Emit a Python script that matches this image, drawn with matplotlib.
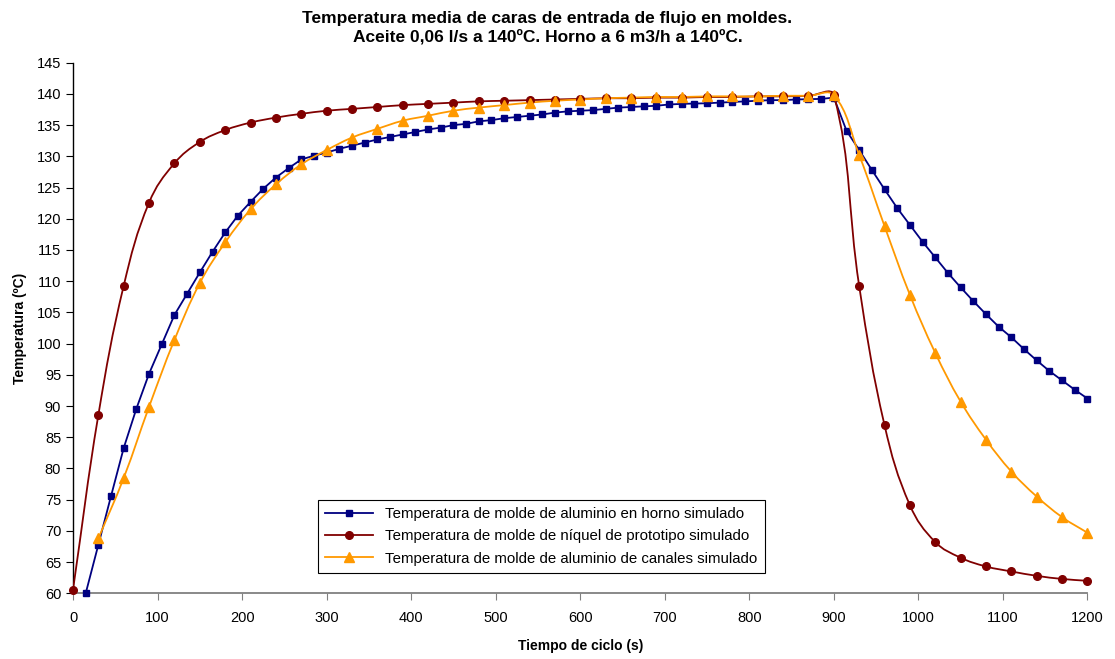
import matplotlib
matplotlib.use("Agg")
import matplotlib.pyplot as plt
import numpy as np
from matplotlib.path import Path
from matplotlib.patches import PathPatch
from matplotlib.lines import Line2D

plt.rcParams["font.family"] = ["Liberation Sans", "DejaVu Sans"]

# Datos
tiempo_horno = list(range(15, 1201, 15))
temp_horno = [
    60.0, 67.8, 75.6, 83.3, 89.6, 95.2, 99.9, 104.6, 108.0, 111.4,
    114.7, 117.8, 120.5, 122.7, 124.8, 126.6, 128.1, 129.5, 130.1, 130.6,
    131.2, 131.7, 132.2, 132.7, 133.1, 133.5, 133.9, 134.3, 134.6, 135.0,
    135.2, 135.6, 135.8, 136.1, 136.3, 136.5, 136.7, 137.0, 137.2, 137.3,
    137.4, 137.6, 137.8, 137.9, 138.0, 138.1, 138.3, 138.4, 138.45, 138.5,
    138.6, 138.7, 138.8, 138.9, 139.0, 139.0, 139.1, 139.15, 139.2, 139.4,
    134.1, 131.0, 127.8, 124.7, 121.7, 119.0, 116.3, 113.8, 111.3, 109.0,
    106.8, 104.7, 102.7, 101.0, 99.1, 97.3, 95.6, 94.1, 92.6, 91.2,
]

tiempo_niquel = list(range(0, 1201, 30))
temp_niquel = [
    60.6, 88.6, 109.3, 122.6, 128.9, 132.3, 134.2, 135.4, 136.2, 136.8,
    137.3, 137.6, 137.9, 138.2, 138.4, 138.6, 138.8, 138.9, 139.0, 139.1,
    139.2, 139.3, 139.3, 139.4, 139.4, 139.5, 139.5, 139.6, 139.6, 139.7,
    139.8, 109.2, 86.9, 74.1, 68.2, 65.7, 64.3, 63.5, 62.8, 62.3, 62.0,
]

tiempo_canales = list(range(30, 1201, 30))
temp_canales = [
    68.8, 78.5, 89.9, 100.6, 109.7, 116.2, 121.5, 125.5, 128.7, 131.0,
    133.0, 134.4, 135.7, 136.5, 137.3, 137.8, 138.2, 138.6, 138.9, 139.1,
    139.3, 139.4, 139.5, 139.5, 139.6, 139.6, 139.6, 139.7, 139.7, 139.8,
    130.2, 118.8, 107.8, 98.5, 90.7, 84.6, 79.5, 75.5, 72.2, 69.7,
]

etiquetas = [
    "Temperatura de molde de aluminio en horno simulado",
    "Temperatura de molde de níquel de prototipo simulado",
    "Temperatura de molde de aluminio de canales simulado",
]


def curva_suavizada(ax, x, y, k=0.4):
    """Trazo suavizado tipo Excel: Bezier por tramos calculado en pixeles."""
    pts = ax.transData.transform(np.column_stack([x, y]))
    n = len(pts)
    tang = []
    for i in range(n):
        p0 = pts[max(i - 1, 0)]
        p2 = pts[min(i + 1, n - 1)]
        d = p2 - p0
        la = np.linalg.norm(pts[i] - p0)
        lb = np.linalg.norm(p2 - pts[i])
        tot = la + lb if la + lb > 0 else 1.0
        tang.append((d * la / tot * k, d * lb / tot * k))
    verts = [pts[0]]
    codes = [Path.MOVETO]
    for i in range(n - 1):
        verts += [pts[i] + tang[i][1], pts[i + 1] - tang[i + 1][0], pts[i + 1]]
        codes += [Path.CURVE4] * 3
    verts = ax.transData.inverted().transform(np.array(verts))
    return Path(verts, codes)


fig = plt.figure(figsize=(11.15, 6.59), dpi=100)
ax = fig.add_axes([0.0655, 0.0997, 0.9098, 0.8052])

azul = "#000080"
rojo = "#800000"
naranja = "#FF9900"

ax.set_xlim(0, 1200)
ax.set_ylim(60, 145)
ax.set_xticks(range(0, 1201, 100))
ax.set_yticks(range(60, 146, 5))

# Serie horno (lineas rectas)
ax.plot(tiempo_horno, temp_horno, color=azul, lw=1.3, marker="s",
        markersize=4.5, zorder=3, clip_on=False)

# Series suavizadas
for t, v, c, m, ms in [
    (tiempo_niquel, temp_niquel, rojo, "o", 5.5),
    (tiempo_canales, temp_canales, naranja, "^", 6.5),
]:
    ax.add_patch(PathPatch(curva_suavizada(ax, t, v), facecolor="none",
                           edgecolor=c, lw=1.3, zorder=3))
    ax.plot(t, v, ls="none", marker=m, color=c, markersize=ms, zorder=4,
            clip_on=False)

for s in ["top", "right"]:
    ax.spines[s].set_visible(False)
ax.spines["left"].set_color("black")
ax.spines["bottom"].set_color("#808080")
ax.spines["left"].set_linewidth(1.0)
ax.spines["bottom"].set_linewidth(1.3)
ax.tick_params(axis="both", direction="out", length=5, labelsize=10.5,
               colors="black")
ax.tick_params(axis="x", color="#808080", pad=8)

ax.set_xlabel("Tiempo de ciclo (s)", fontsize=10, fontweight="bold", labelpad=10)
ax.set_ylabel("Temperatura (ºC)", fontsize=10, fontweight="bold", labelpad=7)

fig.text(0.491, 0.983, "Temperatura media de caras de entrada de flujo en moldes.\n"
         "Aceite 0,06 l/s a 140ºC. Horno a 6 m3/h a 140ºC.",
         fontsize=12.5, fontweight="bold", ha="center", va="top",
         linespacing=1.2)

handles = [
    Line2D([], [], color=azul, lw=1.3, marker="s", markersize=4.5),
    Line2D([], [], color=rojo, lw=1.3, marker="o", markersize=5.5),
    Line2D([], [], color=naranja, lw=1.3, marker="^", markersize=6.5),
]
leg = ax.legend(handles, etiquetas, loc="lower left",
                bbox_to_anchor=(0.241, 0.038), fontsize=10.8, frameon=True,
                fancybox=False, framealpha=1, edgecolor="black",
                borderpad=0.5, labelspacing=0.55, handlelength=3.2,
                handletextpad=0.8, borderaxespad=0)
leg.get_frame().set_linewidth(0.8)

fig.savefig("out.png", dpi=100)
